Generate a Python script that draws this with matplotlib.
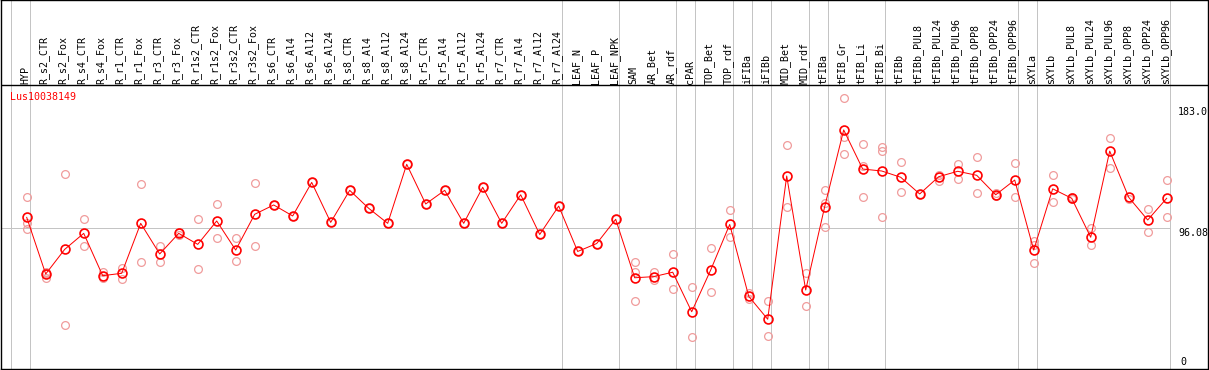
import matplotlib
matplotlib.use('Agg')
import matplotlib.pyplot as plt

gene = "Lus10038149"

categories = [
    "HYP", "R_s2_CTR", "R_s2_Fox", "R_s4_CTR", "R_s4_Fox", "R_r1_CTR", "R_r1_Fox",
    "R_r3_CTR", "R_r3_Fox", "R_r1s2_CTR", "R_r1s2_Fox", "R_r3s2_CTR", "R_r3s2_Fox",
    "R_s6_CTR", "R_s6_Al4", "R_s6_Al12", "R_s6_Al24", "R_s8_CTR", "R_s8_Al4",
    "R_s8_Al12", "R_s8_Al24", "R_r5_CTR", "R_r5_Al4", "R_r5_Al12", "R_r5_Al24",
    "R_r7_CTR", "R_r7_Al4", "R_r7_Al12", "R_r7_Al24", "LEAF_N", "LEAF_P", "LEAF_NPK",
    "SAM", "AR_Bet", "AR_rdf", "cPAR", "TOP_Bet", "TOP_rdf", "iFIBa", "iFIBb",
    "MID_Bet", "MID_rdf", "tFIBa", "tFIB_Gr", "tFIB_Li", "tFIB_Bi", "tFIBb",
    "tFIBb_PUL8", "tFIBb_PUL24", "tFIBb_PUL96", "tFIBb_OPP8", "tFIBb_OPP24",
    "tFIBb_OPP96", "sXYLa", "sXYLb", "sXYLb_PUL8", "sXYLb_PUL24", "sXYLb_PUL96",
    "sXYLb_OPP8", "sXYLb_OPP24", "sXYLb_OPP96",
]

means = [
    103.7, 63.0, 80.7, 92.2, 61.8, 63.5, 99.4, 77.4, 92.2, 84.3, 101.1, 80.2, 105.9,
    112.6, 104.7, 128.8, 100.1, 123.1, 110.2, 99.4, 141.8, 113.3, 123.1, 99.4, 125.3,
    99.4, 119.9, 91.4, 111.8, 79.2, 84.9, 102.3,
    60.3, 61.1, 64.3, 35.9, 65.9, 98.6, 47.0, 30.5, 133.4, 51.5,
    111.4, 166.5, 138.4, 137.0, 132.5, 120.5, 132.9, 136.8, 133.9, 119.9, 130.5,
    80.2, 124.2, 117.4, 89.4, 151.3, 118.1, 101.8, 117.4,
]

replicates = [
    [118.1, 99.9, 95.1], [64.7, 60.3, 64.0], [134.6, 26.1], [102.3, 83.0],
    [64.7, 60.3], [67.1, 59.4], [127.4, 71.4], [83.0, 71.8], [93.4, 91.0],
    [102.3, 66.4], [113.1, 88.9], [88.9, 72.0], [128.1, 83.0],
    [112.6], [104.7], [128.8], [100.1], [123.1], [110.2], [99.4], [141.8],
    [113.3], [123.1], [99.4], [125.3], [99.4], [119.9], [91.4], [111.8],
    [79.2], [84.9], [102.3],
    [71.4, 64.3, 43.6], [64.3, 58.5], [77.4, 52.0], [53.6, 17.9], [81.6, 50.1],
    [108.9, 89.4], [49.6, 44.8], [43.6, 18.2], [155.4, 111.1], [63.8, 40.0],
    [123.3, 96.8, 114.0], [189.2, 161.6, 149.0], [156.1, 140.6, 118.1],
    [154.0, 151.6, 103.7], [143.2, 121.9], [120.5], [134.1, 130.0],
    [142.0, 131.5], [146.8, 121.0], [121.0, 118.8], [142.7, 118.3],
    [86.8, 83.7, 70.8], [133.9, 114.5], [118.0, 116.8], [96.1, 83.7],
    [160.6, 138.9], [116.9], [109.5, 93.2], [130.3, 103.7],
]

group_starts = [0, 1, 29, 32, 35, 36, 38, 39, 40, 42, 43, 46, 53, 54, 61]
ref_value = 96.08
max_value = 183.0

W, H = 1209, 370
fig = plt.figure(figsize=(W / 100, H / 100), dpi=100)
ax = fig.add_axes([1 / W, 1 / H, 1207 / W, 369 / H])

x0_px, dx_px = 26.7, 19.0
y0_px, dy_px = 361.7, 1.392
xlim = ((1 - x0_px) / dx_px, (1208 - x0_px) / dx_px)
ylim = ((y0_px - 369) / dy_px, y0_px / dy_px)
ax.set_xlim(*xlim)
ax.set_ylim(*ylim)
ax.set_xticks([])
ax.set_yticks([])
for s in ax.spines.values():
    s.set_color('black')
    s.set_linewidth(1.0)

lw = 0.72
gray = '#c4c4c4'
off = 15.7 / dx_px
for k in group_starts:
    ax.axvline(k - off, color=gray, lw=lw, zorder=1)

header_v = (y0_px - 85) / dy_px
ax.axhline(header_v, color='black', lw=1.0, zorder=5)

ax.hlines(ref_value, xlim[0], group_starts[-1] - off, color=gray, lw=lw, zorder=1)

mono = 'DejaVu Sans Mono'
fs = 7.2
label_v = (y0_px - 83.5) / dy_px
for i, c in enumerate(categories):
    ax.text(i - 0.08, label_v, c, rotation=90, ha='center', va='bottom',
            fontsize=fs, family=mono, color='black', zorder=6)

# replicates
for i, reps in enumerate(replicates):
    ax.plot([i] * len(reps), reps, linestyle='none', marker='o', ms=5.6,
            mfc='none', mec='#f09c9c', mew=0.9, zorder=3)

xs = list(range(len(means)))
ax.plot(xs, means, color='red', lw=lw, zorder=4)
ax.plot(xs, means, linestyle='none', marker='o', ms=6.4, mfc='none',
        mec='red', mew=1.2, zorder=4)

# axis value labels
xl = (1178 - x0_px) / dx_px
ax.text(xl, max_value, f"{max_value:.1f}", ha='left', va='top', fontsize=fs,
        family=mono, clip_on=True)
ax.text(xl, ref_value, f"{ref_value:.2f}", ha='left', va='top', fontsize=fs,
        family=mono, clip_on=True)
ax.text((1180 - x0_px) / dx_px, (y0_px - 357) / dy_px, "0", ha='left', va='top',
        fontsize=fs, family=mono, clip_on=True)

fig.text(10 / W, 1 - 92 / H, gene, ha='left', va='top', fontsize=fs,
         family=mono, color='red')

fig.savefig('out.png', dpi=100)
